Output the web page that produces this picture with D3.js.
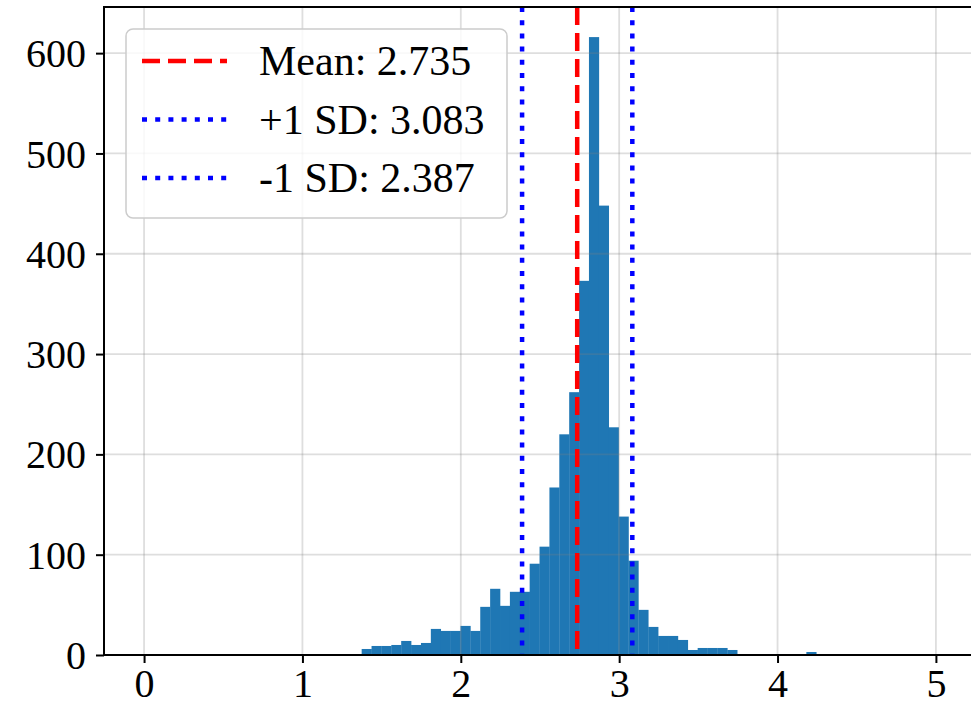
<!DOCTYPE html>
<html>
<head>
<meta charset="utf-8">
<script src="https://cdn.jsdelivr.net/npm/d3@7"></script>
<style>
  body { margin: 0; background: #fff; }
  text { font-family: "Liberation Serif", "Times New Roman", serif; }
</style>
</head>
<body>
<div id="chart"></div>
<script>
// histogram values
var binStart = 1.374;
var binWidth = 0.0624;
var counts = [6, 9, 9, 10, 14, 10, 12, 26, 24, 24, 29, 24, 48, 66, 49, 63, 63, 91, 108, 167,
  220, 262, 373, 616, 448, 227, 138, 94, 45, 28, 19, 19, 15, 5, 7, 7, 7, 5, 1, 0,
  0, 1, 1, 0, 0, 3];

var xTicks = [0, 1, 2, 3, 4, 5];
var yTicks = [0, 100, 200, 300, 400, 500, 600];

var refLines = [
  { label: "Mean: 2.735", value: 2.735, color: "red", dash: "18,8" },
  { label: "+1 SD: 3.083", value: 3.083, color: "blue", dash: "5,8.2" },
  { label: "-1 SD: 2.387", value: 2.387, color: "blue", dash: "5,8.2" }
];

var svgWidth = 971;
var svgHeight = 704;

// plot box (right edge sits past the picture, it was cropped)
var plot = { left: 104, right: 985, top: 7, bottom: 655 };

var svg = d3.select("#chart")
  .append("svg")
  .attr("width", svgWidth)
  .attr("height", svgHeight);

var x = d3.scaleLinear()
  .domain([-0.253, 5.31])
  .range([plot.left, plot.right]);

var y = d3.scaleLinear()
  .domain([0, 646])
  .range([plot.bottom, plot.top]);

var bins = counts.map(function(c, i) {
  return { x0: binStart + i * binWidth, x1: binStart + (i + 1) * binWidth, count: c };
});

// bars
svg.append("g")
  .selectAll("rect")
  .data(bins)
  .enter()
  .append("rect")
  .attr("x", d => x(d.x0))
  .attr("width", d => x(d.x1) - x(d.x0) + 0.3)
  .attr("y", d => y(d.count))
  .attr("height", d => y(0) - y(d.count))
  .attr("fill", "#1f77b4");

// grid (drawn over the bars, semi transparent)
var grid = svg.append("g")
  .attr("stroke", "#808080")
  .attr("stroke-opacity", 0.26)
  .attr("stroke-width", 1.8);

grid.selectAll(".gx")
  .data(xTicks)
  .enter()
  .append("line")
  .attr("x1", d => x(d))
  .attr("x2", d => x(d))
  .attr("y1", plot.top)
  .attr("y2", plot.bottom);

grid.selectAll(".gy")
  .data(yTicks)
  .enter()
  .append("line")
  .attr("x1", plot.left)
  .attr("x2", plot.right)
  .attr("y1", d => y(d))
  .attr("y2", d => y(d));

// mean and sd lines
svg.append("g")
  .selectAll("line")
  .data(refLines)
  .enter()
  .append("line")
  .attr("x1", d => x(d.value))
  .attr("x2", d => x(d.value))
  .attr("y1", plot.top)
  .attr("y2", plot.bottom)
  .attr("stroke", d => d.color)
  .attr("stroke-width", 4.5)
  .attr("stroke-dasharray", d => d.dash);

// axes
var bottomAxis = d3.axisBottom(x)
  .tickValues(xTicks)
  .tickFormat(d3.format("d"))
  .tickSize(8)
  .tickPadding(6)
  .tickSizeOuter(0);

var leftAxis = d3.axisLeft(y)
  .tickValues(yTicks)
  .tickFormat(d3.format("d"))
  .tickSize(8)
  .tickPadding(10)
  .tickSizeOuter(0);

var xAxis = svg.append("g")
  .attr("transform", `translate(0, ${plot.bottom})`)
  .call(bottomAxis);

var yAxis = svg.append("g")
  .attr("transform", `translate(${plot.left}, 0)`)
  .call(leftAxis);

[xAxis, yAxis].forEach(function(ax) {
  ax.select(".domain").remove();
  ax.selectAll(".tick line").attr("stroke", "#000").attr("stroke-width", 2);
  ax.selectAll(".tick text")
    .attr("fill", "#000")
    .style("font-family", "'Liberation Serif', serif")
    .style("font-size", "40px");
});
xAxis.selectAll(".tick text").attr("dy", "0.7em");
yAxis.selectAll(".tick text").attr("dy", "0.34em");

// spines
svg.append("rect")
  .attr("x", plot.left)
  .attr("y", plot.top)
  .attr("width", plot.right - plot.left)
  .attr("height", plot.bottom - plot.top)
  .attr("fill", "none")
  .attr("stroke", "#000")
  .attr("stroke-width", 2);

// legend
var legend = svg.append("g");

legend.append("rect")
  .attr("x", 126)
  .attr("y", 29)
  .attr("width", 381)
  .attr("height", 189)
  .attr("rx", 7)
  .attr("fill", "#fff")
  .attr("fill-opacity", 0.8)
  .attr("stroke", "#cccccc")
  .attr("stroke-width", 1.5);

var rows = legend.selectAll(".row")
  .data(refLines)
  .enter()
  .append("g")
  .attr("transform", (d, i) => `translate(0, ${61 + i * 58.5})`);

rows.append("line")
  .attr("x1", 142)
  .attr("x2", 227)
  .attr("stroke", d => d.color)
  .attr("stroke-width", 4.5)
  .attr("stroke-dasharray", d => d.dash);

rows.append("text")
  .attr("x", 259)
  .attr("y", 14)
  .attr("fill", "#000")
  .style("font-size", "42px")
  .text(d => d.label);
</script>
</body>
</html>
